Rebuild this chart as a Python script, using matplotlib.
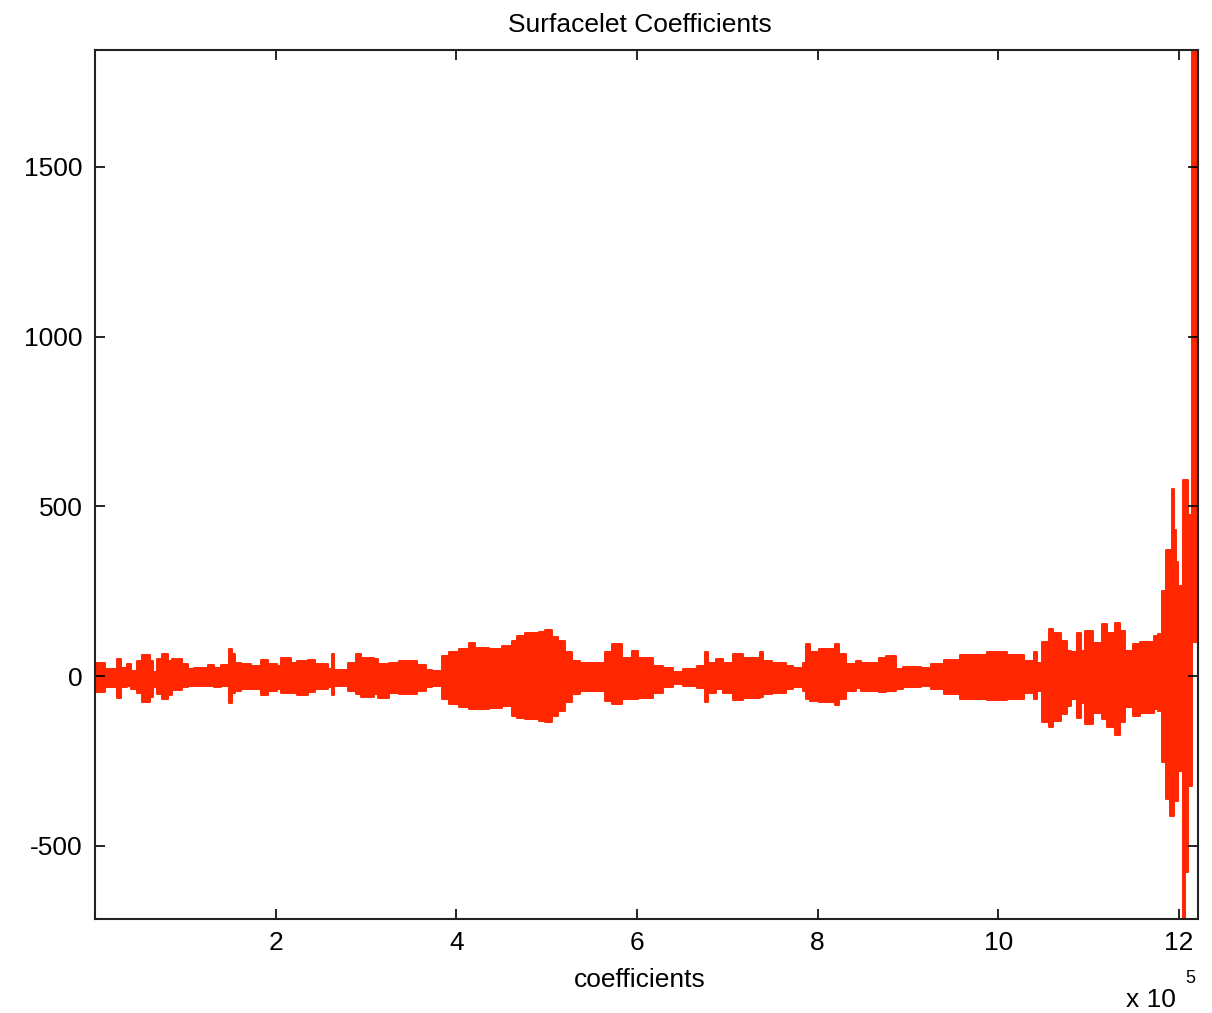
import numpy as np
import matplotlib
matplotlib.use("Agg")
import matplotlib.pyplot as plt

plt.rcParams['font.family'] = ['Liberation Sans', 'DejaVu Sans']
plt.rcParams['axes.unicode_minus'] = False

# envelope of the coefficient trace
# segment starts (thousands of coefficients), max and min value in each segment
seg_start = [
    0, 11, 24, 29, 35, 40, 46, 52, 61, 64, 69, 74, 81, 85, 96, 103, 110, 125,
    132, 140, 148, 152, 155, 162, 173, 184, 191, 201, 206, 217, 224, 236, 243,
    258, 262, 265, 280, 289, 294,
    309, 313, 325, 336, 357, 366, 373, 384, 392, 403, 414, 421, 436, 451, 462,
    467, 476, 491, 498, 506, 513, 520, 528, 537, 565, 572, 583, 594, 601,
    618, 629, 640, 651, 666, 675, 679, 688, 695, 706, 717, 736, 739, 750, 765,
    773, 784, 787, 791, 802, 819, 824, 831, 842, 848, 868, 876, 887, 894,
    914, 925, 940, 958, 988, 1010, 1028, 1039, 1043, 1048, 1056, 1061, 1069,
    1076, 1081, 1087, 1091, 1096, 1105, 1115, 1120, 1129, 1135, 1140, 1149,
    1157, 1172, 1177,
    1181, 1186, 1190, 1192, 1194.5, 1197, 1199, 1205, 1207, 1210, 1214,
]
seg_max = [
    40, 21, 52, 25, 35, 16, 45, 62, 45, 11, 50, 65, 45, 50, 35, 21, 23, 32,
    23, 32, 79, 65, 40, 35, 30, 48, 35, 30, 55, 38, 45, 48, 35,
    21, 65, 19, 40, 65, 55,
    50, 35, 40, 45, 32, 19, 16, 60, 72, 79, 99, 84, 81, 89, 104,
    119, 126, 130, 136, 114, 104, 70, 45, 40, 70, 94, 55, 75, 55,
    30, 23, 11, 21, 30, 72, 40, 50, 40, 65, 55, 72, 45, 40, 30,
    25, 40, 94, 70, 79, 94, 65, 35, 45, 40, 55, 60, 21, 28,
    25, 35, 48, 62, 70, 62, 45, 72, 40, 101, 138, 128, 104,
    75, 70, 128, 75, 133, 99, 153, 128, 158, 133, 75, 94,
    101, 119, 124,
    250, 373, 373, 550, 432, 335, 265, 579, 579, 476, 1844,
]
seg_min = [
    -46, -33, -63, -33, -30, -38, -48, -77, -60, -33, -53, -68, -56, -40, -33, -30, -28, -30,
    -33, -30, -80, -48, -43, -38, -38, -56, -43, -38, -50, -48, -56, -46, -38,
    -33, -56, -30, -43, -53, -60,
    -53, -63, -50, -53, -43, -33, -30, -68, -82, -92, -97, -97, -95, -87, -117,
    -122, -126, -131, -136, -117, -102, -77, -53, -43, -73, -82, -68, -66, -63,
    -48, -33, -24, -28, -36, -77, -48, -38, -48, -70, -63, -60, -53, -48, -38,
    -33, -43, -68, -73, -77, -86, -68, -43, -36, -43, -46, -43, -38, -33,
    -28, -38, -53, -68, -70, -68, -48, -68, -43, -136, -151, -132, -112,
    -87, -68, -122, -78, -141, -107, -127, -151, -174, -136, -92, -117,
    -107, -97, -102,
    -254, -362, -411, -411, -367, -367, -279, -715, -577, -323, 100,
]
n_coeffs = 1221e3

x = np.append(np.array(seg_start) * 1e3, n_coeffs)
hi = np.append(seg_max, seg_max[-1])
lo = np.append(seg_min, seg_min[-1])

fig = plt.figure(figsize=(12.12, 10.13), dpi=100)
ax = fig.add_axes([0.0784, 0.0928, 0.910, 0.8578])

red = '#ff2600'
ax.fill_between(x, lo, hi, step='post', color=red, linewidth=1.4, edgecolor=red)

ax.set_xlim(0, n_coeffs)
ax.set_ylim(min(seg_min), max(seg_max))

ax.set_xticks(np.arange(2, 13, 2) * 1e5)
ax.set_xticklabels([str(v) for v in range(2, 13, 2)])
ax.set_yticks([-500, 0, 500, 1000, 1500])

ax.tick_params(direction='in', top=True, right=True, length=7, width=1.2,
               labelsize=19, color='black')
ax.tick_params(axis='x', pad=8.5)
ax.tick_params(axis='y', pad=9)
for s in ax.spines.values():
    s.set_linewidth(1.5)
    s.set_color('#222222')

ax.set_title('Surfacelet Coefficients', fontsize=19, pad=13, x=0.494)
ax.set_xlabel('coefficients', fontsize=19)
ax.xaxis.set_label_coords(0.494, -0.056)

# exponent label like MATLAB's
ax.text(0.957, -0.093, 'x 10', transform=ax.transAxes, fontsize=19,
        ha='center', va='center')
ax.text(0.993, -0.068, '5', transform=ax.transAxes, fontsize=13,
        ha='center', va='center')

plt.savefig('out.png', dpi=100)
